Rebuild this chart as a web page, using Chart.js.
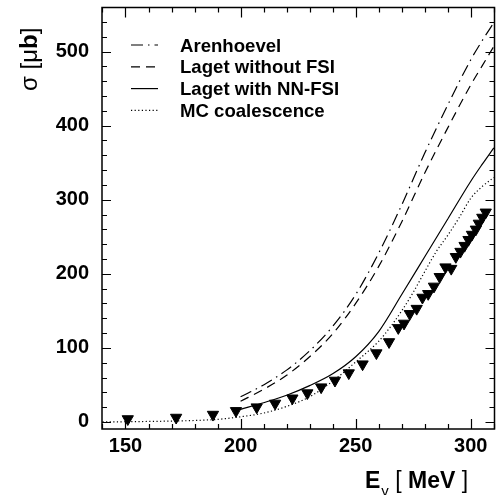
<!DOCTYPE html>
<html>
<head>
<meta charset="utf-8">
<script src="https://cdn.jsdelivr.net/npm/chart.js@4.4.1/dist/chart.umd.min.js"></script>
<style>
  html, body { margin: 0; padding: 0; background: #fff; }
</style>
</head>
<body>
<canvas id="myChart" width="502" height="495"></canvas>
<script>
// measured points (triangles)
const dataE = [151, 172, 188, 198, 207, 215, 222.5, 229, 235, 241, 247, 253, 259, 264.5, 268.5, 271, 273.5,
    276.5, 279, 281.5, 284, 286.5, 289, 291.5, 293.5, 295.5, 297.3, 299, 300.5, 302.2, 303.5, 305, 306.5];
const dataSigma = [4, 6, 10, 15, 20, 25, 32, 39, 47, 56, 66, 78, 93, 108, 127, 133, 146,
    153, 168, 173, 183, 196, 209, 207, 223, 230, 238, 246, 253, 260, 268, 276, 283];

// theory curves
const curveE = [200, 210, 220, 230, 240, 250, 260, 270, 280, 290, 300, 305, 310];
const arenhoevel = [34, 50, 70, 96, 129, 172, 228, 293, 363, 428, 489, 515, 539];
const lagetNoFsi = [28, 44, 63, 88, 119, 160, 210, 270, 336, 397, 455, 481, 507];
const lagetNnFsi = [17, 26, 36, 49, 65, 88, 122, 172, 223, 274, 325, 348, 370];

const mcE = [140, 150, 160, 170, 180, 190, 200, 210, 220, 230, 240, 250, 260, 265, 270, 275, 280, 285, 290, 295, 300, 305, 310];
const mcSigma = [0, 0.3, 0.7, 1.2, 2, 3.5, 7, 12, 21, 34, 55, 81, 109, 128, 150, 175, 203, 230, 252, 276, 302, 318, 330];

const xTicks = [150, 200, 250, 300];
const yTicks = [0, 100, 200, 300, 400, 500];
const legendLabels = ['Arenhoevel', 'Laget without FSI', 'Laget with NN-FSI', 'MC coalescence'];

const FONT = "'Liberation Sans', Arial, Helvetica, sans-serif";

function pts(xs, ys) {
    return xs.map((x, i) => ({ x: x, y: ys[i] }));
}

const curveStyle = (dash) => ({
    type: 'line',
    borderColor: '#000',
    borderWidth: 1.2,
    borderDash: dash,
    pointRadius: 0,
    fill: false,
    cubicInterpolationMode: 'monotone'
});

// no extra padding from the tick labels, the frame must sit where the layout says
function noPad(s) {
    s.paddingTop = 0;
    s.paddingBottom = 0;
    s.paddingLeft = 0;
    s.paddingRight = 0;
}

// draws the frame, inside ticks, legend and axis titles
const framePlugin = {
    id: 'frame',
    afterDraw(chart) {
        const ctx = chart.ctx;
        const a = chart.chartArea;
        const xs = chart.scales.x, ys = chart.scales.y;
        ctx.save();
        ctx.strokeStyle = '#000';
        ctx.lineWidth = 1.5;
        ctx.strokeRect(a.left, a.top, a.right - a.left, a.bottom - a.top);

        ctx.lineWidth = 1.2;
        ctx.beginPath();
        for (let v = 140; v <= 310; v += 10) {
            const px = Math.round(xs.getPixelForValue(v)) + 0.5;
            const len = v % 50 === 0 ? 10 : 5;
            ctx.moveTo(px, a.bottom); ctx.lineTo(px, a.bottom - len);
            ctx.moveTo(px, a.top); ctx.lineTo(px, a.top + len);
        }
        for (let v = 0; v <= 540; v += 20) {
            const py = Math.round(ys.getPixelForValue(v)) + 0.5;
            const len = v % 100 === 0 ? 9 : 5;
            ctx.moveTo(a.left, py); ctx.lineTo(a.left + len, py);
            ctx.moveTo(a.right, py); ctx.lineTo(a.right - len, py);
        }
        ctx.stroke();

        // legend
        const sets = chart.data.datasets.slice(1);
        sets.forEach((ds, i) => {
            const y = 45 + i * 21.8;
            ctx.setLineDash(ds.borderDash || []);
            ctx.lineWidth = 1.2;
            ctx.beginPath();
            ctx.moveTo(131, y); ctx.lineTo(158, y);
            ctx.stroke();
            ctx.setLineDash([]);
            ctx.fillStyle = '#000';
            ctx.font = 'bold 18.6px ' + FONT;
            ctx.textBaseline = 'alphabetic';
            ctx.fillText(legendLabels[i], 180, y + 6.5);
        });

        // x title: E_gamma [ MeV ]
        ctx.textBaseline = 'alphabetic';
        let x = 365;
        const pieces = [
            ['E', 'bold 23px ', 0],
            ['\u03b3', '15px ', 8],
            [' [ ', '23px ', 0],
            ['MeV', 'bold 23px ', 0],
            [' ]', '23px ', 0]
        ];
        pieces.forEach(p => {
            ctx.font = p[1] + FONT;
            ctx.fillText(p[0], x, 488 + p[2]);
            x += ctx.measureText(p[0]).width + (p[0] === 'E' ? 1 : 0);
        });

        // y title: sigma [mu b], rotated
        ctx.translate(37, 91);
        ctx.rotate(-Math.PI / 2);
        x = 0;
        const ypieces = [
            ['\u03c3', '24px '],
            [' [', '24px '],
            ['\u03bc', '24px '],
            ['b', 'bold 24px '],
            [']', '24px ']
        ];
        ypieces.forEach(p => {
            ctx.font = p[1] + FONT;
            ctx.fillText(p[0], x, 0);
            x += ctx.measureText(p[0]).width;
        });
        ctx.restore();
    }
};

const ctx = document.getElementById('myChart');
new Chart(ctx, {
    type: 'scatter',
    data: {
        datasets: [
            {
                label: 'data',
                data: pts(dataE, dataSigma),
                pointStyle: 'triangle',
                rotation: 180,
                pointRadius: 6.5,
                backgroundColor: '#000',
                borderColor: '#000',
                borderWidth: 1,
                showLine: false
            },
            Object.assign({ label: legendLabels[0], data: pts(curveE, arenhoevel) }, curveStyle([12, 5, 1.5, 5])),
            Object.assign({ label: legendLabels[1], data: pts(curveE, lagetNoFsi) }, curveStyle([9, 6])),
            Object.assign({ label: legendLabels[2], data: pts(curveE, lagetNnFsi) }, curveStyle([])),
            Object.assign({ label: legendLabels[3], data: pts(mcE, mcSigma) }, curveStyle([1.2, 2.4]))
        ]
    },
    options: {
        responsive: false,
        animation: false,
        devicePixelRatio: 1,
        layout: { padding: { top: 7, right: 6, left: 0, bottom: 0 } },
        plugins: {
            legend: { display: false },
            tooltip: { enabled: false }
        },
        scales: {
            x: {
                type: 'linear',
                min: 139.8,
                max: 310.3,
                grid: { display: false, drawTicks: false },
                border: { display: false },
                afterBuildTicks: s => { s.ticks = xTicks.map(v => ({ value: v })); },
                afterFit: s => { s.height = 66; noPad(s); },
                ticks: {
                    color: '#000',
                    font: { family: FONT, size: 20, weight: 'bold' },
                    padding: 5,
                    maxRotation: 0,
                    autoSkip: false
                }
            },
            y: {
                min: -9.5,
                max: 559.5,
                grid: { display: false, drawTicks: false },
                border: { display: false },
                afterBuildTicks: s => { s.ticks = yTicks.map(v => ({ value: v })); },
                afterFit: s => { s.width = 102; noPad(s); },
                ticks: {
                    color: '#000',
                    font: { family: FONT, size: 20, weight: 'bold' },
                    padding: 13
                }
            }
        }
    },
    plugins: [framePlugin]
});
</script>
</body>
</html>
